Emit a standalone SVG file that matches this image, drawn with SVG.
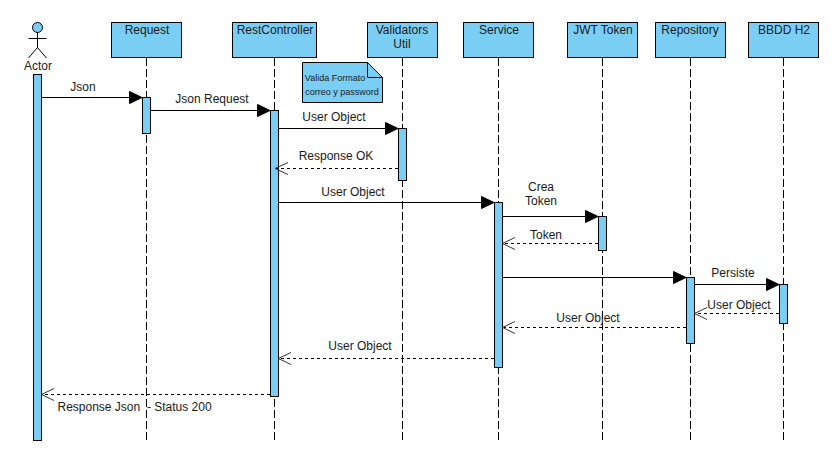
<svg xmlns="http://www.w3.org/2000/svg" width="840" height="454" viewBox="0 0 840 454">
<style>
text{font-family:"Liberation Sans",Arial,sans-serif;font-size:12px;fill:#1a1a1a;text-anchor:middle}
.box{fill:#7acef4;stroke:#000;stroke-width:1}
.life{stroke:#000;stroke-width:1;stroke-dasharray:8 3;fill:none}
.msg{stroke:#000;stroke-width:1;fill:none}
.ret{stroke:#000;stroke-width:1;stroke-dasharray:3 3;fill:none}
.open{stroke:#333;stroke-width:1;fill:none}
.head{fill:#000;stroke:#000;stroke-width:1}
.note{font-size:9px}
</style>
<rect width="840" height="454" fill="#fff"/>
<g id="lifelines">
<path class="life" d="M146.500 58V440M274.500 58V440M402.500 58V440M498.500 58V440M602.500 58V440M690.500 58V440M783.500 58V440"/>
</g>
<g id="actor">
<circle class="box" cx="37.500" cy="27.500" r="5"/>
<path class="msg" d="M37.500 32.500V47.500M28.500 38.500H46.500M37.500 47.500L28.500 58M37.500 47.500L46.500 58"/>
<text x="38" y="70">Actor</text>
<rect class="box" x="33.500" y="74.500" width="8" height="366"/>
</g>
<g id="request">
<rect class="box" x="111.500" y="22.500" width="70" height="35"/>
<text x="147" y="34">Request</text>
<rect class="box" x="142.500" y="97.500" width="8" height="36"/>
</g>
<g id="restcontroller">
<rect class="box" x="232.500" y="22.500" width="84" height="35"/>
<text x="275" y="34">RestController</text>
<rect class="box" x="270.500" y="110.500" width="8" height="286"/>
</g>
<g id="validators">
<rect class="box" x="367.500" y="22.500" width="70" height="35"/>
<text x="402" y="34">Validators</text>
<text x="402" y="48">Util</text>
<rect class="box" x="398.500" y="128.500" width="8" height="52"/>
</g>
<g id="service">
<rect class="box" x="463.500" y="22.500" width="70" height="35"/>
<text x="499" y="34">Service</text>
<rect class="box" x="494.500" y="202.500" width="8" height="165"/>
</g>
<g id="jwt">
<rect class="box" x="567.500" y="22.500" width="70" height="35"/>
<text x="603" y="34">JWT Token</text>
<rect class="box" x="598.500" y="216.500" width="8" height="34"/>
</g>
<g id="repository">
<rect class="box" x="655.500" y="22.500" width="70" height="35"/>
<text x="690" y="34">Repository</text>
<rect class="box" x="686.500" y="277.500" width="8" height="66"/>
</g>
<g id="bbdd">
<rect class="box" x="748.500" y="22.500" width="70" height="35"/>
<text x="784" y="34">BBDD H2</text>
<rect class="box" x="779.500" y="284.500" width="8" height="39"/>
</g>
<g id="note">
<path class="box" d="M302.500 62.500H367.500L382.500 77.500V102.500H302.500Z"/>
<path class="msg" d="M367.500 62.500V77.500H382.500"/>
<text class="note" x="335" y="81">Valida Formato</text>
<text class="note" x="342" y="95">correo y password</text>
</g>
<g id="connectors">
<path class="msg" d="M41 97.500H130"/><path class="head" d="M129.500 91.500L142 97.500L129.500 103.500Z"/>
<path class="msg" d="M150 110.500H258"/><path class="head" d="M257.500 104.500L270 110.500L257.500 116.500Z"/>
<path class="msg" d="M278 128.500H386"/><path class="head" d="M385.500 122.500L398 128.500L385.500 134.500Z"/>
<path class="ret" d="M398 168.500H276"/><path class="open" d="M288 162.500L275 168.500L288 174.500"/>
<path class="msg" d="M278 202.500H482"/><path class="head" d="M481.500 196.500L494 202.500L481.500 208.500Z"/>
<path class="msg" d="M502 216.500H586"/><path class="head" d="M585.500 210.500L598 216.500L585.500 222.500Z"/>
<path class="ret" d="M598 243.500H504"/><path class="open" d="M515 237.500L502.500 243.500L515 249.500"/>
<path class="msg" d="M502 277.500H674"/><path class="head" d="M673.500 271.500L686 277.500L673.500 283.500Z"/>
<path class="msg" d="M694 284.500H767"/><path class="head" d="M766.500 278.500L779 284.500L766.500 290.500Z"/>
<path class="ret" d="M779 313.500H696"/><path class="open" d="M707 307.500L694.500 313.500L707 319.500"/>
<path class="ret" d="M686 327.500H504"/><path class="open" d="M515 321.500L502.500 327.500L515 333.500"/>
<path class="ret" d="M494 358.500H280"/><path class="open" d="M291 352.500L278.500 358.500L291 364.500"/>
<path class="ret" d="M270 394.500H43"/><path class="open" d="M54 388.500L41.500 394.500L54 400.500"/>
</g>
<g id="labels">
<text x="83" y="91">Json</text>
<text x="212" y="103">Json Request</text>
<text x="334" y="121">User Object</text>
<text x="336" y="160">Response OK</text>
<text x="353" y="196">User Object</text>
<text x="541" y="191">Crea</text>
<text x="541" y="205">Token</text>
<text x="546" y="239">Token</text>
<text x="733" y="277">Persiste</text>
<text x="739" y="309">User Object</text>
<text x="588" y="322">User Object</text>
<text x="360" y="350">User Object</text>
<text x="57.500" y="411" style="text-anchor:start;white-space:pre">Response Json  - Status 200</text>
</g>
</svg>
